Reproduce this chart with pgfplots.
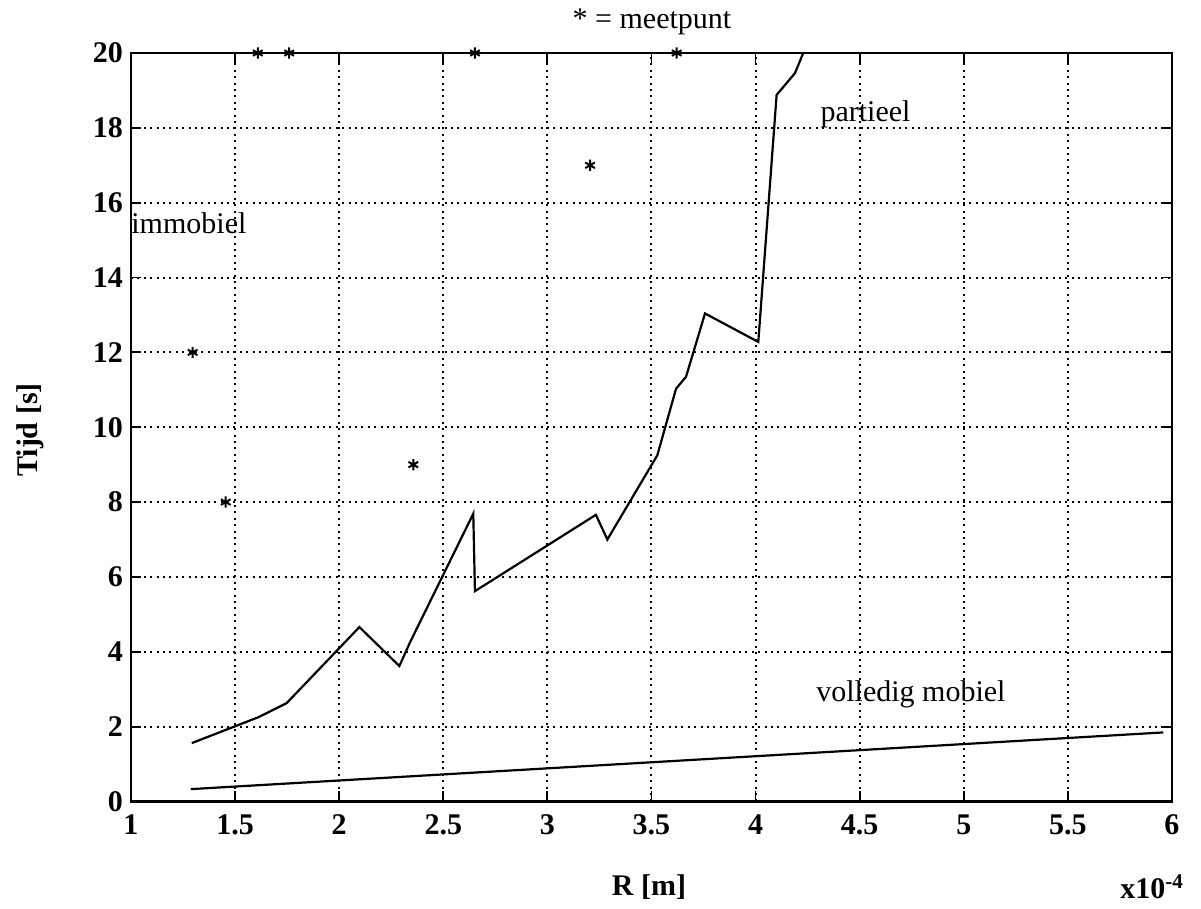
\documentclass[border=0pt]{standalone}
\usepackage{fontspec}
\setmainfont{Liberation Serif}
\usepackage{pgfplots}
\pgfplotsset{compat=1.18}
\begin{document}
\begin{tikzpicture}[x=1pt,y=1pt]
\path[use as bounding box] (0,0) rectangle (600.5,454.5);
\begin{axis}[
  at={(65.5pt,53.75pt)}, anchor=south west,
  scale only axis, width=520.5pt, height=374.25pt,
  xmin=1, xmax=6, ymin=0, ymax=20,
  xtick={1,1.5,2,2.5,3,3.5,4,4.5,5,5.5,6},
  ytick={0,2,4,6,8,10,12,14,16,18,20},
  xtick pos=both, ytick pos=both,
  xticklabel pos=lower, yticklabel pos=left,
  tick align=inside, major tick length=5pt,
  tick style={black, line width=0.9pt},
  axis line style={black, line width=1.1pt},
  grid=major,
  grid style={black, line width=1pt, dash pattern=on 1pt off 2.2pt},
  /pgf/number format/assume math mode=true,
  ticklabel style={font=\fontsize{15}{18}\selectfont\bfseries},
  xticklabel style={yshift=-3pt},
  yticklabel style={xshift=-0.5pt},
]
% partieel
\addplot[black, line width=1.1pt, mark=none] coordinates {
  (1.292,1.56) (1.611,2.25) (1.748,2.63) (2.097,4.66) (2.289,3.62)
  (2.34,4.25) (2.644,7.69) (2.652,5.62) (3.233,7.66) (3.288,7.00)
  (3.528,9.25) (3.618,11.03) (3.666,11.35) (3.757,13.04) (4.013,12.28)
  (4.101,18.88) (4.189,19.46) (4.229,20.0)
};
% volledig mobiel
\addplot[black, line width=1.1pt, mark=none] coordinates {
  (1.287,0.33) (5.958,1.845)
};
% meetpunten
\addplot[only marks, mark=asterisk, mark size=2.8pt, black,
  mark options={line width=1pt}] coordinates {
  (1.296,12) (1.455,8) (2.356,9) (3.205,17)
  (1.609,20) (1.760,20) (2.652,20) (3.621,20)
};
\node[anchor=base west, inner sep=0pt, font=\fontsize{15}{18}\selectfont] at (axis cs:1.0,15.18) {immobiel};
\node[anchor=base west, inner sep=0pt, font=\fontsize{15}{18}\selectfont] at (axis cs:4.31,18.16) {partieel};
\node[anchor=base west, inner sep=0pt, font=\fontsize{15}{18}\selectfont] at (axis cs:4.29,2.67) {volledig mobiel};
\end{axis}
\node[font=\fontsize{15}{18}\selectfont] at (326,443.5) {* = meetpunt};
\node[rotate=90, font=\fontsize{15}{18}\selectfont\bfseries] at (15,239.5) {Tijd [s]};
\node[font=\fontsize{15}{18}\selectfont\bfseries] at (324.5,11) {R [m]};
\node[font=\fontsize{15}{18}\selectfont\bfseries] at (576,11) {x10\textsuperscript{-4}};
\end{tikzpicture}
\end{document}
